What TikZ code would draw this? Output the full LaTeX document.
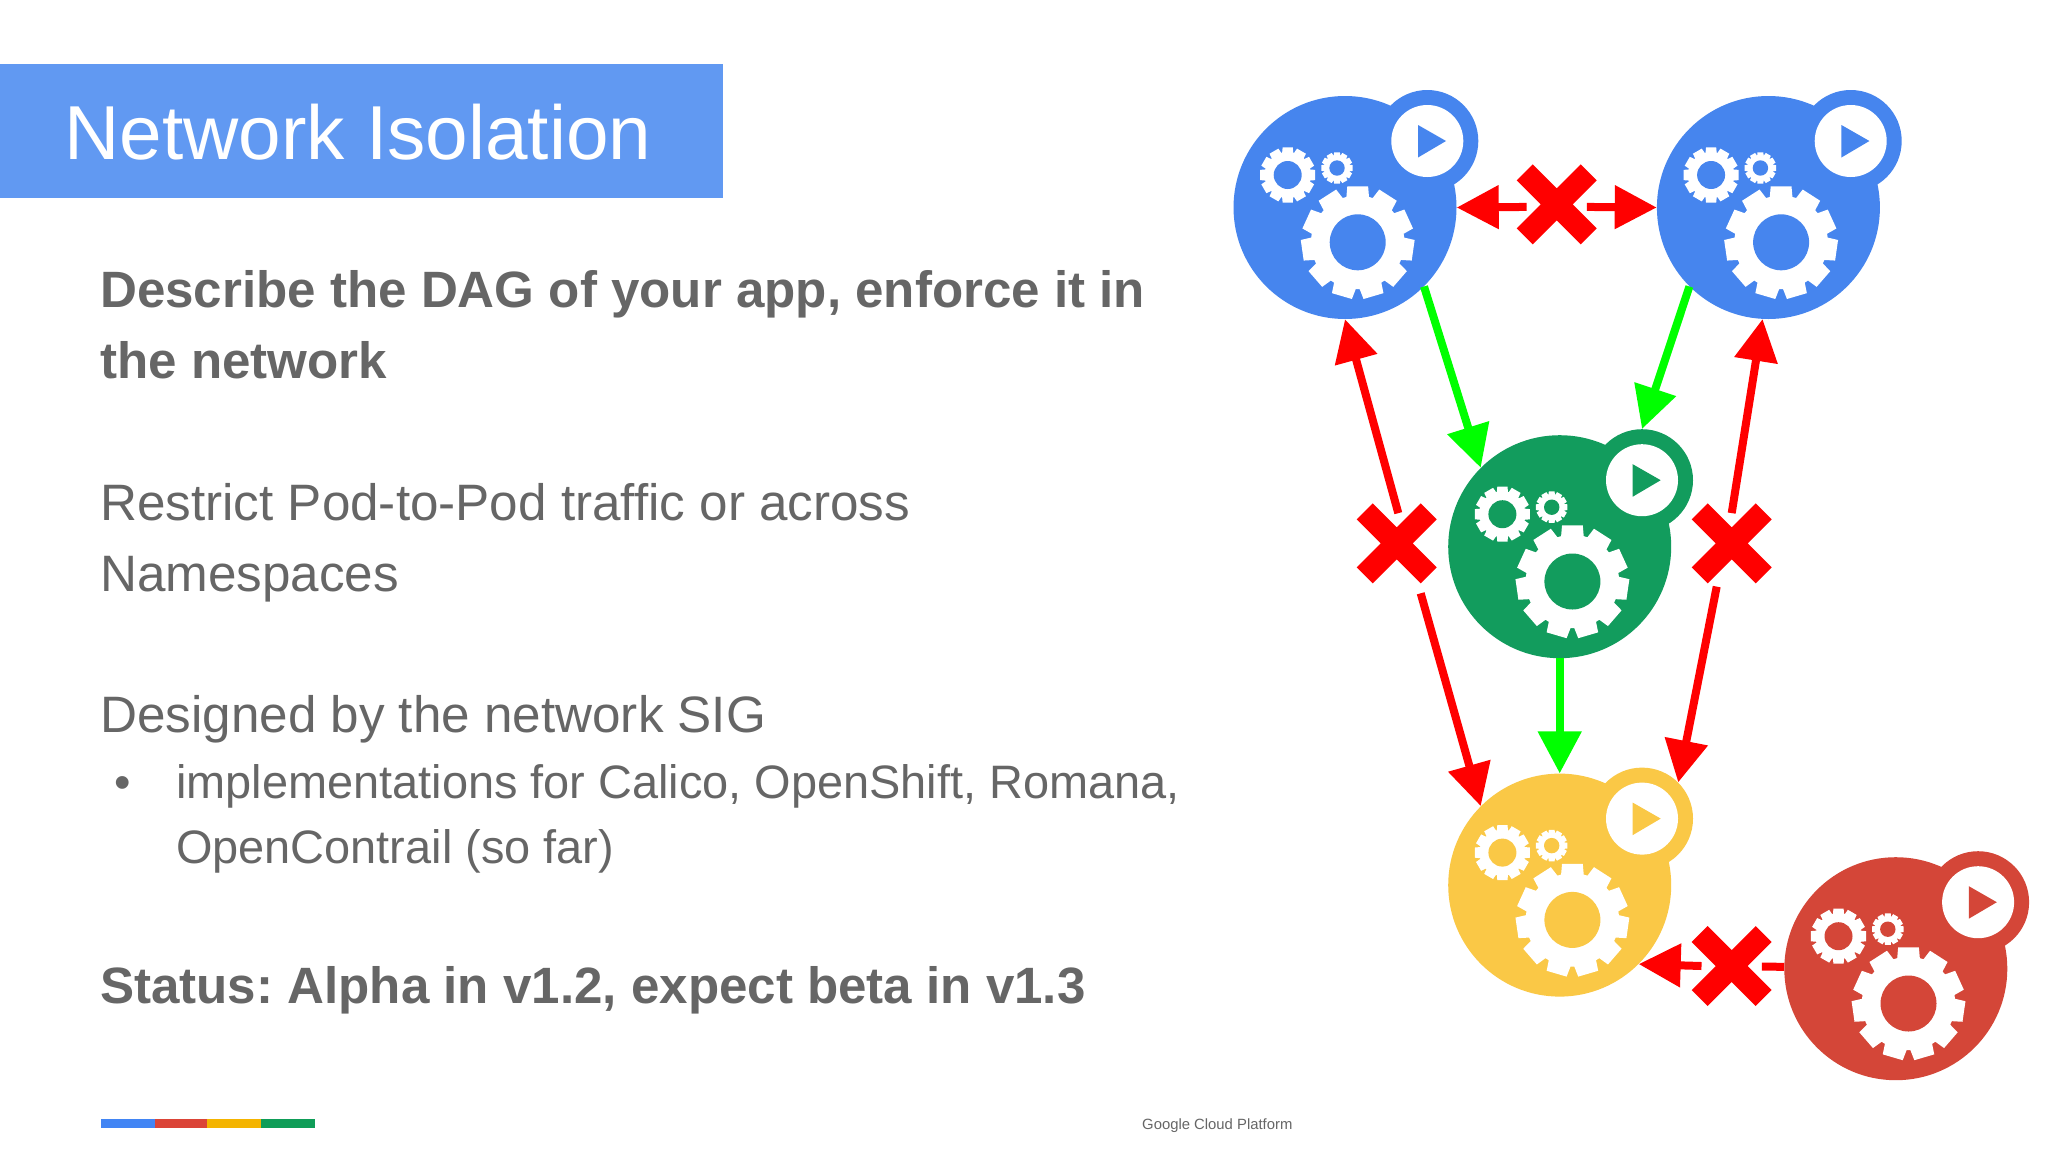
\documentclass[tikz,border=0pt]{standalone}
\usepackage{fontspec}
\setmainfont{Liberation Sans}
\usetikzlibrary{positioning,calc,arrows.meta}
\frenchspacing
\definecolor{barclr}{HTML}{6199F2}
\definecolor{txtclr}{HTML}{666666}
\definecolor{podblue}{HTML}{4685EE}
\definecolor{podgreen}{HTML}{129C5D}
\definecolor{podyellow}{HTML}{FAC846}
\definecolor{podred}{HTML}{D44638}
\definecolor{stripblue}{HTML}{4285F4}
\definecolor{stripred}{HTML}{DB4437}
\definecolor{stripyellow}{HTML}{F4B400}
\definecolor{stripgreen}{HTML}{0F9D58}
\tikzset{ %
  ,>={Triangle[length=42pt,width=42pt]}
  ,pod/.style={circle, inner sep=0, minimum size=223pt}
  ,podplay/.style={circle, inner sep=0, minimum size=102pt}
  ,poddisc/.style={circle, inner sep=0, minimum size=72pt, fill=white}
  ,xmark/.style={circle, inner sep=0, minimum size=60pt}
  ,crossarm/.style={line width=22.6pt, draw=red}
  ,allow/.style={line width=8pt, draw=green, fill=green}
  ,deny/.style={line width=8pt, draw=red, fill=red}
  ,boldline/.style={anchor=north west, inner sep=0, align=left, text=txtclr, font=\fontsize{51.1}{71}\selectfont\bfseries}
  ,plainline/.style={anchor=north west, inner sep=0, align=left, text=txtclr, font=\fontsize{51.2}{71}\selectfont}
  ,subline/.style={anchor=north west, inner sep=0, align=left, text=txtclr, font=\fontsize{46.9}{65}\selectfont}
}
\newcommand{\podgear}[5]{%
  \pgfmathtruncatemacro{\lasttooth}{#3-1}
  \fill[white, shift={(#1)}] (76:{0.82*#2 pt})
    \foreach \t [evaluate=\t as \a using 90+\t*360/#3] in {0,...,\lasttooth} {
      -- (\a-14:{0.82*#2 pt}) -- (\a-10.5:#2pt) -- (\a+10.5:#2pt) -- (\a+14:{0.82*#2 pt})
    } -- cycle;
  \fill[#5] (#1) circle (#4pt);
}
\begin{document}
\begin{tikzpicture}[x=1pt, y=-1pt]
  \useasboundingbox (0,0) rectangle (2048,1152);
  \fill[white] (0,0) rectangle (2048,1152);
  \fill[barclr] (0,64) rectangle (723,198);
  \node[anchor=base west, inner sep=0, text=white, font=\fontsize{76.5}{76}\selectfont] (title) at (64.5,159) {Network Isolation};
  \node[boldline] (dag) at (100,270) {Describe the DAG of your app, enforce it in\\the network};
  \node[plainline] (restrict) at (100,483) {Restrict Pod-to-Pod traffic or across\\Namespaces};
  \node[plainline] (sig) at (100,695) {Designed by the network SIG};
  \node[anchor=base, inner sep=0, text=txtclr, font=\fontsize{47}{47}\selectfont] (dot) at (123,798) {•};
  \node[subline] (impl) at (176,764) {implementations for Calico, OpenShift, Romana,\\OpenContrail (so far)};
  \node[boldline] (status) at (100,966) {Status: Alpha in v1.2, expect beta in v1.3};
  \node[anchor=base west, inner sep=0, text=txtclr, font=\fontsize{14.85}{15}\selectfont] (google) at (1142,1129) {Google Cloud Platform};
  \fill[stripblue] (101,1119) rectangle (155,1128);
  \fill[stripred] (155,1119) rectangle (207,1128);
  \fill[stripyellow] (207,1119) rectangle (261,1128);
  \fill[stripgreen] (261,1119) rectangle (315,1128);

  \draw
  node[pod, fill=podblue] (blueA) at (1345,207.5) {}
  node[pod, fill=podblue, right=200pt of blueA] (blueB) {}
  node[pod, fill=podgreen] (greenpod) at (1559.7,546.7) {}
  node[pod, fill=podyellow, below=115pt of greenpod] (yellowpod) {}
  node[pod, fill=podred] (redpod) at (1895.8,968.7) {};
  \foreach \p/\c in {blueA/podblue, blueB/podblue, greenpod/podgreen, yellowpod/podyellow, redpod/podred} {
    \node[podplay, fill=\c] (\p play) at ($(\p)+(82.3,-66.5)$) {};
    \node[poddisc] (\p disc) at (\p play) {};
    \fill[\c] ($(\p)+(73,-82.5)$) -- ($(\p)+(101,-66.5)$) -- ($(\p)+(73,-50)$) -- cycle;
    \podgear{$(\p)+(12.7,34.8)$}{57}{11}{28}{\c}
    \podgear{$(\p)+(-57.3,-32.5)$}{28}{12}{14}{\c}
    \podgear{$(\p)+(-8,-39.5)$}{16}{12}{7.7}{\c}
  }

  \draw
  node[xmark] (xtop) at (1556.7,204.3) {}
  node[xmark] (xleft) at (1396.7,543.3) {}
  node[xmark] (xright) at (1731.7,543.3) {}
  node[xmark] (xbot) at (1731.7,966) {};
  \foreach \m in {xtop, xleft, xright, xbot} {
    \draw[crossarm] ($(\m)+(-32,-32)$) -- ($(\m)+(32,32)$) ($(\m)+(-32,32)$) -- ($(\m)+(32,-32)$);
  }
  \coordinate (leftlow) at ($(xleft)+(24,50)$);
  \coordinate (rightlow) at ($(xright)+(-15,43.3)$);

  \draw[allow,->] (blueA.-45) -- (greenpod.135);
  \draw[allow,->] (blueB.-135) -- (greenpodplay.90);
  \draw[allow,->] (greenpod.south) -- (yellowpod.north);
  \draw[deny,->] (xtop.185) -- (blueA.east);
  \draw[deny,->] (xtop.-5) -- (blueB.west);
  \draw[deny,->] (xleft.87) -- (blueA.270);
  \draw[deny,->] (xright.90) -- (blueB.267);
  \draw[deny,->] (leftlow) -- (yellowpod.135);
  \draw[deny,->] (rightlow) -- (yellowpodplay.45);
  \draw[deny,->] (xbot.180) -- (yellowpod.-45);
  \draw[deny] (xbot) -- (redpod);
\end{tikzpicture}
\end{document}
